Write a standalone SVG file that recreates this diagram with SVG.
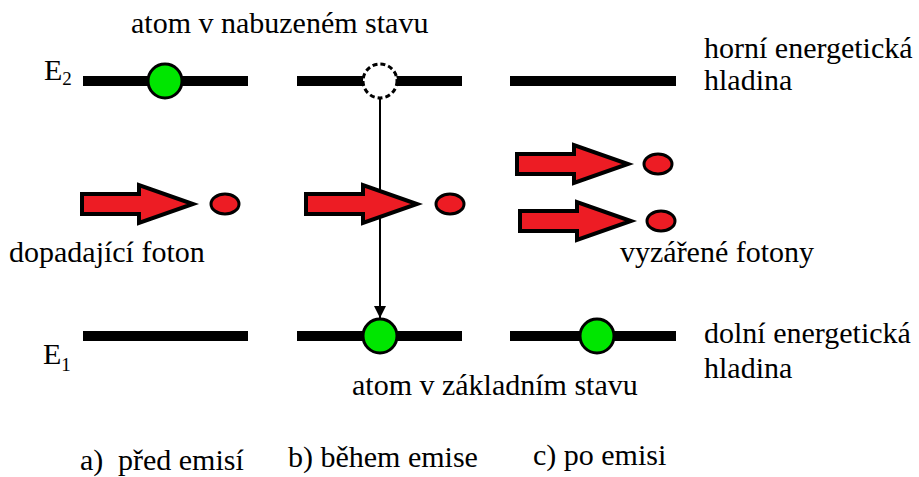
<svg xmlns="http://www.w3.org/2000/svg" width="919" height="477" viewBox="0 0 919 477">
<style>
.lvl{stroke:#000;stroke-width:10}
.atom{fill:#00e600;stroke:#000;stroke-width:3}
.ph{fill:#ed1c24;stroke:#000;stroke-width:4;stroke-linejoin:miter}
.dot{fill:#ed1c24;stroke:#000;stroke-width:3}
</style>
<defs>
<marker id="ah" viewBox="0 0 10 10" refX="10" refY="5" markerWidth="14" markerHeight="12" markerUnits="userSpaceOnUse" orient="auto"><path d="M0,0 L10,5 L0,10 z" fill="#000"/></marker>
<path id="photon" d="M0,-10 L57,-10 L57,-19 L111,0 L57,19 L57,10 L0,10 z"/>
</defs>
<rect width="919" height="477" fill="#fff"/>
<g id="levels">
<line class="lvl" x1="83" y1="81" x2="248" y2="81"/>
<line class="lvl" x1="297" y1="81" x2="462" y2="81"/>
<line class="lvl" x1="510" y1="81" x2="676" y2="81"/>
<line class="lvl" x1="83" y1="336" x2="248" y2="336"/>
<line class="lvl" x1="297" y1="336" x2="462" y2="336"/>
<line class="lvl" x1="510" y1="336" x2="676" y2="336"/>
</g>
<g id="connectors">
<line x1="380" y1="98" x2="380" y2="318" stroke="#000" stroke-width="2" marker-end="url(#ah)"/>
</g>
<g id="atom-a"><circle class="atom" cx="165" cy="81" r="17"/></g>
<g id="atom-b-excited"><circle cx="380" cy="81" r="17" fill="#fff" stroke="#000" stroke-width="3" stroke-dasharray="5,3"/></g>
<g id="atom-b"><circle class="atom" cx="380" cy="336" r="17"/></g>
<g id="atom-c"><circle class="atom" cx="597" cy="336" r="17"/></g>
<g id="photon-a"><use href="#photon" class="ph" x="82" y="204"/><ellipse class="dot" cx="225" cy="204" rx="14" ry="10"/></g>
<g id="photon-b"><use href="#photon" class="ph" x="306" y="204"/><ellipse class="dot" cx="450" cy="204" rx="14" ry="10"/></g>
<g id="photon-c1"><use href="#photon" class="ph" x="517" y="164"/><ellipse class="dot" cx="658" cy="164" rx="14" ry="10"/></g>
<g id="photon-c2"><use href="#photon" class="ph" x="520" y="221"/><ellipse class="dot" cx="661" cy="221" rx="14" ry="10"/></g>
<g id="labels" font-family="'Liberation Serif', 'Times New Roman', serif" font-size="30" fill="#000">
<text x="131" y="33">atom v nabuzeném stavu</text>
<text x="44" y="80">E<tspan font-size="19" dy="5">2</tspan></text>
<text x="43" y="364">E<tspan font-size="19" dy="7">1</tspan></text>
<text x="704" y="58">horní energetická</text>
<text x="704" y="90">hladina</text>
<text x="9" y="262">dopadající foton</text>
<text x="620" y="262">vyzářené fotony</text>
<text x="704" y="343">dolní energetická</text>
<text x="704" y="378">hladina</text>
<text x="352" y="395">atom v základním stavu</text>
<text x="80" y="470">a)<tspan x="118">před emisí</tspan></text>
<text x="288" y="467">b) během emise</text>
<text x="533" y="465">c) po emisi</text>
</g>
</svg>
